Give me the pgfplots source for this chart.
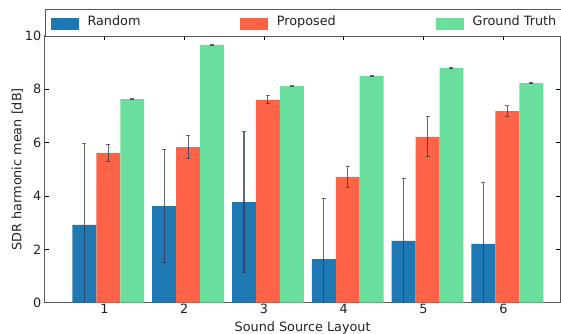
\documentclass[border=0pt]{standalone}
\usepackage{pgfplots}
\usepackage{pgfplotstable}
\pgfplotsset{compat=1.18}
\usepackage{fontspec}
\setmainfont{DejaVu Sans}
\definecolor{cblue}{HTML}{1F77B4}
\definecolor{cred}{HTML}{FF6347}
\definecolor{cgreen}{HTML}{6ADE9C}
\definecolor{cerr}{HTML}{2C3E50}
\definecolor{spine}{HTML}{5A5A5A}
\definecolor{txt}{HTML}{222222}
\pgfplotsset{
  mybar/.style={
    ybar, bar width=0.3, bar shift=0pt, draw=none,
    error bars/y dir=both, error bars/y explicit,
    error bars/error bar style={cerr, line width=1.1pt, opacity=0.75},
    error bars/error mark options={rotate=90, mark size=2pt, line width=1pt, cerr, opacity=0.75},
  },
}
\pgfplotstableread{
x rand randerr prop properr gt gterr
1 2.91 3.04 5.61 0.33 7.63 0.02
2 3.62 2.13 5.83 0.44 9.66 0.02
3 3.77 2.63 7.60 0.15 8.12 0.02
4 1.63 2.29 4.71 0.39 8.50 0.02
5 2.31 2.35 6.21 0.75 8.80 0.02
6 2.20 2.30 7.18 0.20 8.23 0.02
}\data
\begin{document}
\begin{tikzpicture}
\begin{axis}[
  name=ax,
  scale only axis,
  width=515.7pt, height=266.7pt,
  xmin=0.254, xmax=6.716,
  ymin=0, ymax=10,
  xtick={1,2,3,4,5,6},
  ytick={0,2,4,6,8,10},
  tick pos=both,
  tick align=inside,
  major tick length=4.5pt,
  tick style={black, line width=0.8pt},
  axis line style={spine, line width=1.3pt},
  font=\fontsize{12.8}{15}\selectfont,
  /pgf/number format/assume math mode=true,
  ticklabel style={text=txt},
  xticklabel style={yshift=2pt},
  xlabel={Sound Source Layout},
  ylabel={SDR harmonic mean [dB]},
  label style={text=txt},
  xlabel style={at={(axis description cs:0.5,0)}, anchor=base, yshift=-28.4pt},
  ylabel style={at={(axis description cs:-0.0533,0.5)}, anchor=center},
  legend style={
    at={(axis description cs:0,1)}, anchor=south west, yshift=-0.8pt,
    draw=spine, line width=1pt,
    inner xsep=5.2pt, inner ysep=6pt,
    nodes={inner sep=0pt, text height=9.4pt, text depth=2.6pt, text=txt},
    /tikz/every odd column/.style={column sep=9pt},
    /tikz/every even column/.style={column sep=0pt},
  },
  legend columns=3,
  legend cell align=left,
]
\addplot[mybar, fill=cblue, forget plot] table[x expr=\thisrow{x}-0.25, y=rand, y error=randerr] {\data};
\addplot[mybar, fill=cred, forget plot] table[x expr=\thisrow{x}+0.05, y=prop, y error=properr] {\data};
\addplot[mybar, fill=cgreen, forget plot] table[x expr=\thisrow{x}+0.35, y=gt, y error=gterr] {\data};
\addlegendimage{legend image code/.code={\fill[cblue] (0pt,-7.8pt) rectangle (27pt,3.0pt);}}
\addlegendimage{legend image code/.code={\fill[cred] (0pt,-7.8pt) rectangle (27pt,3.0pt);}}
\addlegendimage{legend image code/.code={\fill[cgreen] (0pt,-7.8pt) rectangle (27pt,3.0pt);}}
\legend{\makebox[152.4pt][l]{Random},\makebox[158.8pt][l]{Proposed},\makebox[95pt][l]{Ground Truth}}
\end{axis}
\pgfresetboundingbox
\path (ax.south west) ++(-44.8pt,-30.4pt) rectangle ++(561pt,333pt);
\end{tikzpicture}
\end{document}
